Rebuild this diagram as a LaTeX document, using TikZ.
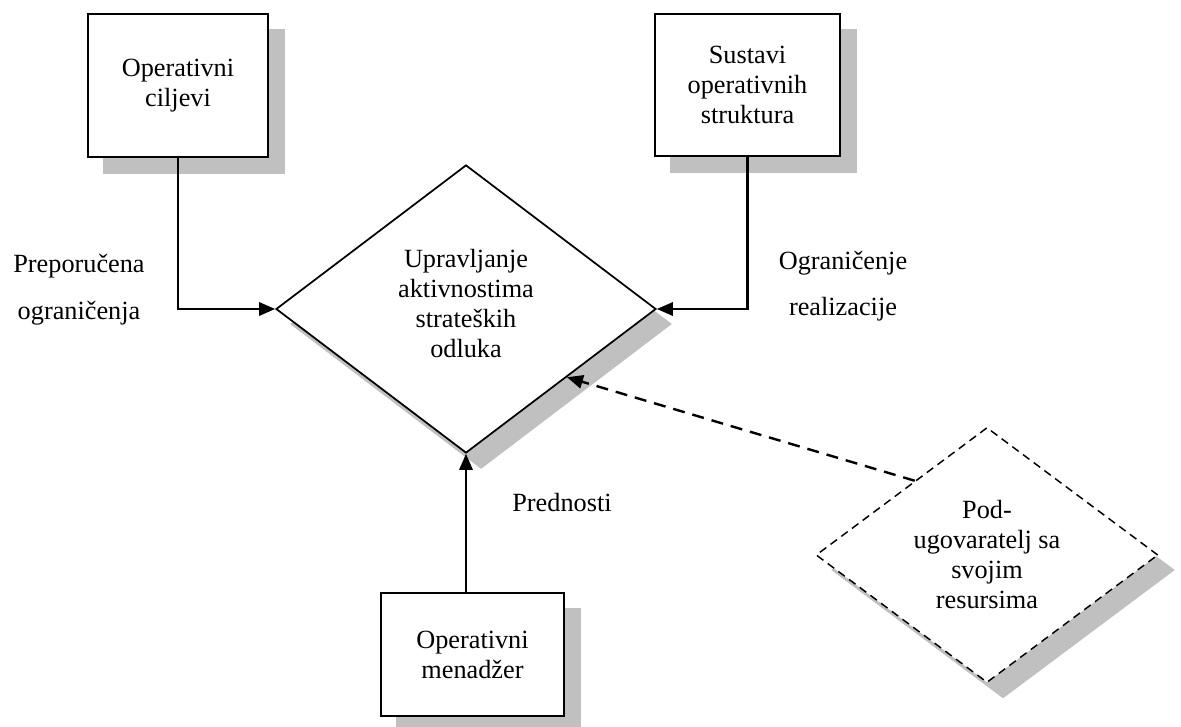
\documentclass[tikz,border=0pt]{standalone}
\usepackage{fontspec}
\setmainfont{Liberation Serif}
\usetikzlibrary{shapes.geometric,arrows.meta,backgrounds,calc}
\definecolor{shadowgray}{RGB}{192,192,192}
\begin{document}
\begin{tikzpicture}[x=0.75pt,y=-0.75pt,
  txt/.style={font=\fontsize{19.7}{22.5}\selectfont, align=center},
  box/.style={txt, draw=black, line width=1.5pt, fill=white, inner sep=0pt},
  maindia/.style={txt, diamond, draw=black, line width=1.3pt, fill=white, inner sep=0pt, minimum width=285pt, minimum height=216pt},
  subdia/.style={txt, diamond, draw=black, line width=1.1pt, dash pattern=on 6pt off 4pt, fill=white, inner sep=0pt, minimum width=256.5pt, minimum height=178pt},
  shadowfill/.style={fill=shadowgray},
  conn/.style={line width=1.6pt, -{Triangle[length=12pt,width=10pt]}},
  dconn/.style={conn, line width=1.8pt, dash pattern=on 9pt off 6pt},
  lbl/.style={font=\fontsize{19.7}{35}\selectfont, align=center, inner sep=0pt}]
\useasboundingbox (0,0) rectangle (1181,727);

% boxes
\node[box, minimum width=135pt, minimum height=107.25pt] (b1) at (178,85.5) {Operativni\\ciljevi};
\node[box, minimum width=138.75pt, minimum height=106.5pt] (b2) at (747.5,85) {Sustavi\\operativnih\\struktura};
\node[box, minimum width=137.25pt, minimum height=92.25pt] (b3) at (472.5,654.5) {Operativni\\menadžer};

% diamonds
\node[maindia] (m) at (466,309) {Upravljanje\\aktivnostima\\strateških\\odluka\rule[-9pt]{0pt}{0pt}};
\node[subdia] (s) at (987,555) {Pod-\\ugovaratelj sa\\svojim\\resursima};

% shadows
\begin{pgfonlayer}{background}
\fill[white] (0,0) rectangle (1181,727);
\fill[shadowfill] ([shift={(16,16)}]b1.north west) rectangle ([shift={(16,16)}]b1.south east);
\fill[shadowfill] ([shift={(16,16)}]b2.north west) rectangle ([shift={(16,16)}]b2.south east);
\fill[shadowfill] ([shift={(16,16)}]b3.north west) rectangle ([shift={(16,16)}]b3.south east);
\fill[shadowfill] ([shift={(15,15)}]m.north) -- ([shift={(15,15)}]m.east) -- ([shift={(15,15)}]m.south) -- ([shift={(15,15)}]m.west) -- cycle;
\fill[shadowfill] ([shift={(16,15)}]s.north) -- ([shift={(16,15)}]s.east) -- ([shift={(16,15)}]s.south) -- ([shift={(16,15)}]s.west) -- cycle;
\end{pgfonlayer}

% connectors
\draw[conn] (b1.south) |- (m.west);
\draw[conn] (b2.south) |- (m.east);
\draw[conn] (b3.north -| m.south) -- (m.south);
\coordinate (dsrc) at ($(s.west)!0.579!(s.north)$);
\coordinate (dtgt) at ($(m.east)!0.471!(m.south)$);
\draw[dconn] (dsrc) -- (dtgt);

% labels
\node[lbl] (l1) at (79,290) {Preporučena\\ograničenja};
\node[lbl] (l2) at (843,286) {Ograničenje\\realizacije};
\node[lbl, anchor=base] (l3) at (562,511) {Prednosti};
\end{tikzpicture}
\end{document}
